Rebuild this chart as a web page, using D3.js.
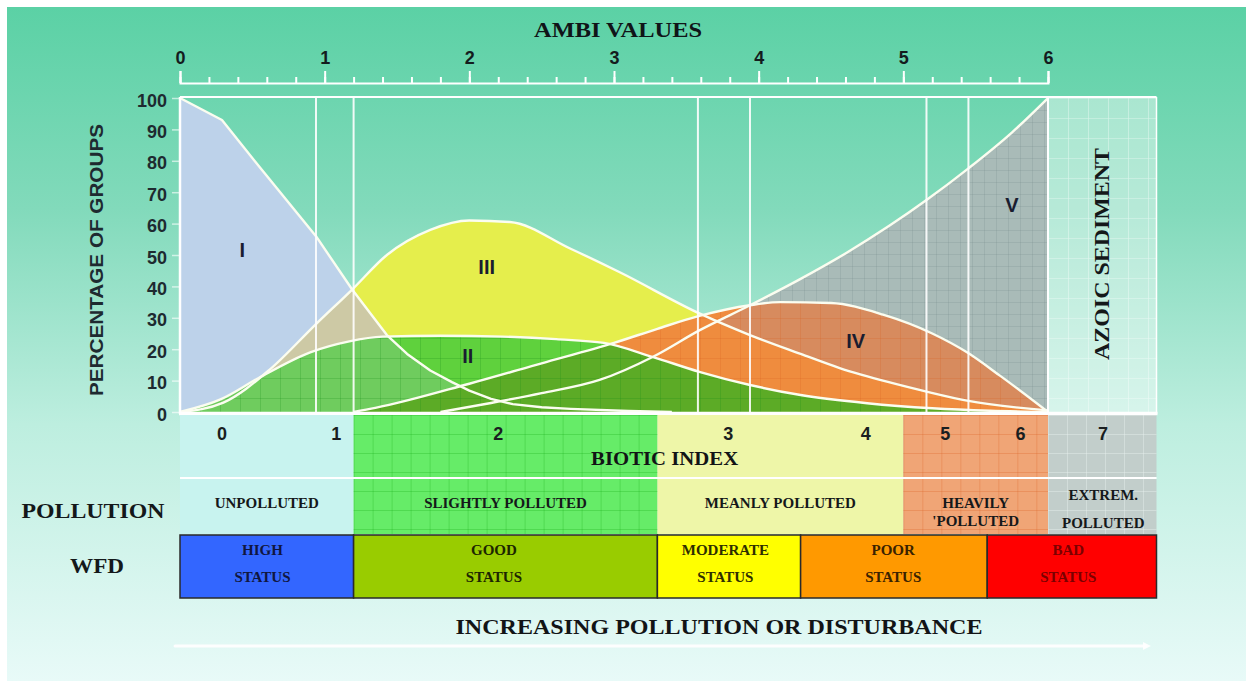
<!DOCTYPE html>
<html><head><meta charset="utf-8">
<script src="https://cdn.jsdelivr.net/npm/d3@7"></script>
<style>body{margin:0;background:#fff}svg{display:block}</style>
</head><body><svg id="c" width="1246" height="686"></svg>
<script>
// ---------- DATA ----------
const ambiTicks = [0, 1, 2, 3, 4, 5, 6];
const pctTicks = [0, 10, 20, 30, 40, 50, 60, 70, 80, 90, 100];
// ecological groups: [AMBI value, percentage]
const groupI   = [[0,100],[0.29,93],[0.55,78],[0.94,56],[1.19,39],[1.43,24.5],[1.57,18.5],[1.73,13.2],[1.88,9.5],[2.0,6.8],[2.15,4.2],[2.3,2.5],[2.5,1.5],[2.7,1],[3.1,0.3],[3.4,0]];
const groupII  = [[0,0],[0.28,4],[0.55,11],[0.9,19],[1.17,22.5],[1.4,24],[1.8,24.3],[2.23,24],[2.6,23.2],[2.93,22],[3.27,17.5],[3.59,12.8],[3.94,8.6],[4.29,5.4],[4.75,2.8],[5.2,1.2],[5.6,0.4],[6,0]];
const groupIII = [[0,0],[0.3,3],[0.62,13.5],[0.94,28],[1.19,39],[1.43,50],[1.73,58],[2.0,61],[2.28,60.5],[2.7,52],[3.04,44.5],[3.59,31.4],[3.94,24.5],[4.29,18.5],[4.56,14],[4.9,9.5],[5.16,6.5],[5.44,3.6],[6,0.5]];
const groupIV  = [[1.2,0],[1.35,1.3],[2.0,9],[2.5,15.5],[3.0,22],[3.3,26.5],[3.59,30.6],[3.94,34],[4.15,35],[4.5,34.7],[4.86,31],[5.2,25],[5.44,19],[5.67,11.5],[6,0]];
const groupV   = [[1.8,0],[2.14,2.8],[2.5,6],[2.9,10.2],[3.27,17.6],[3.59,26],[3.94,34],[4.29,42.4],[4.6,50.5],[4.9,59.2],[5.16,67.5],[5.45,77.6],[5.75,89],[6,100]];
const groupNames = ["I", "II", "III", "IV", "V"];
const dividers = [0.94, 1.2, 3.58, 3.94, 5.16, 5.45];
const azoicRange = [6, 6.75];
const indexBounds = [0, 1.2, 3.3, 5.0, 6.0, 6.75];
const indexLabels = ["0", "1", "2", "3", "4", "5", "6", "7"];
const indexLabelAt = [0.29, 1.08, 2.2, 3.79, 4.74, 5.29, 5.81, 6.38];
const pollutionLabels = [["UNPOLLUTED"], ["SLIGHTLY POLLUTED"], ["MEANLY POLLUTED"], ["HEAVILY", "'POLLUTED"], ["EXTREM.", "POLLUTED"]];
const wfdBounds = [0, 1.2, 3.3, 4.29, 5.58, 6.75];
const wfdLabels = [["HIGH", "STATUS"], ["GOOD", "STATUS"], ["MODERATE", "STATUS"], ["POOR", "STATUS"], ["BAD", "STATUS"]];
const wfdLabelAt = [0.57, 2.17, 3.77, 4.93, 6.14];

// ---------- STYLE ----------
const SERIF = '"Liberation Serif","Times New Roman",serif';
const SANS = '"Liberation Sans",Arial,sans-serif';
const indexFill = ["#c8f3ef", "#66ec68", "#eef6a8", "#f0a576", "#c2cecb"];
const indexGrid = [null, "rgba(20,170,20,0.55)", null, "rgba(220,100,40,0.6)", "rgba(235,242,240,0.8)"];
const wfdFill = ["#3366ff", "#99cc00", "#ffff00", "#ff9900", "#ff0000"];
const wfdText = ["#101640", "#1c2600", "#2e2e00", "#3a2200", "#7a0000"];

const svg = d3.select("#c");
const defs = svg.append("defs");

const x = d3.scaleLinear().domain([0, 6]).range([180, 1048]);
const y = d3.scaleLinear().domain([0, 100]).range([412, 98]);

// background gradient
const bg = defs.append("linearGradient").attr("id", "bg").attr("x1", 0).attr("y1", 0).attr("x2", 0).attr("y2", 1);
[[0, "#5bd1a5"], [0.3, "#82dabb"], [0.62, "#bdeedf"], [1, "#e8faf8"]].forEach(s =>
  bg.append("stop").attr("offset", s[0]).attr("stop-color", s[1]));
svg.append("rect").attr("x", 7).attr("y", 7).attr("width", 1239).attr("height", 674).attr("fill", "url(#bg)");

function gridPattern(id, size, color, w, ox, oy) {
  defs.append("pattern").attr("id", id).attr("patternUnits", "userSpaceOnUse")
    .attr("x", ox).attr("y", oy).attr("width", size).attr("height", size)
    .append("path").attr("d", `M${size} 0L0 0 0 ${size}`).attr("fill", "none")
    .attr("stroke", color).attr("stroke-width", w);
}
gridPattern("gII", 20, "rgba(20,140,20,0.45)", 1, 180, 98);
gridPattern("gIV", 20, "rgba(215,95,30,0.45)", 1, 180, 98);
gridPattern("gV", 12, "rgba(100,125,125,0.35)", 1, 180, 98);
gridPattern("gAz", 20, "rgba(255,255,255,0.55)", 1.2, 1048, 98);
indexGrid.forEach((c, i) => { if (c) gridPattern("gIdx" + i, 19, c, 1, x(indexBounds[i]), 415); });

const curveOf = n => n === "I" ? d3.curveLinear : d3.curveMonotoneX;
const areaOf = n => d3.area().curve(curveOf(n)).x(d => x(d[0])).y0(y(0)).y1(d => y(d[1]));
const lineOf = n => d3.line().curve(curveOf(n)).x(d => x(d[0])).y(d => y(d[1]));
const groups = { I: groupI, II: groupII, III: groupIII, IV: groupIV, V: groupV };
groupNames.forEach(n => defs.append("clipPath").attr("id", "clip" + n).append("path").attr("d", areaOf(n)(groups[n])));

const plot = svg.append("g");
function fillArea(n, color, clip, pat) {
  const d = areaOf(n)(groups[n]);
  const p = plot.append("path").attr("d", d).attr("fill", color);
  if (clip) p.attr("clip-path", `url(#clip${clip})`);
  if (pat) {
    const q = plot.append("path").attr("d", d).attr("fill", `url(#${pat})`);
    if (clip) q.attr("clip-path", `url(#clip${clip})`);
  }
}
fillArea("III", "#e5ee4c");
fillArea("I", "#bdd2ea");
fillArea("I", "#cdc9a5", "III");
fillArea("V", "#a9bbb8", null, "gV");
fillArea("IV", "#ef8c3e", null, "gIV");
fillArea("V", "#d78b5e", "IV", "gIV");
fillArea("III", "#ef8c3e", "IV", "gIV");
fillArea("II", "#5fd13d", null, "gII");
fillArea("I", "#6fcc5e", "II", "gII");
fillArea("IV", "#5cab26", "II", "gII");

// azoic column
plot.append("rect").attr("x", x(azoicRange[0])).attr("y", y(100)).attr("width", x(azoicRange[1]) - x(azoicRange[0]))
  .attr("height", y(0) - y(100)).attr("fill", "rgba(255,255,255,0.42)");
plot.append("rect").attr("x", x(azoicRange[0])).attr("y", y(100)).attr("width", x(azoicRange[1]) - x(azoicRange[0]))
  .attr("height", y(0) - y(100)).attr("fill", "url(#gAz)");

// curves
groupNames.forEach(n => plot.append("path").attr("d", lineOf(n)(groups[n])).attr("fill", "none")
  .attr("stroke", "#fbfdf0").attr("stroke-width", 2.4).attr("stroke-linejoin", "round"));

// dividers
plot.selectAll(".div").data(dividers).join("line").attr("x1", d => x(d)).attr("x2", d => x(d))
  .attr("y1", y(100)).attr("y2", y(0)).attr("stroke", "#ffffff").attr("stroke-width", 2).attr("opacity", 0.9);

// borders
const bw = "#ffffff";
plot.append("line").attr("x1", x(0)).attr("x2", x(0)).attr("y1", y(100) - 1).attr("y2", y(0) + 2).attr("stroke", bw).attr("stroke-width", 2.5);
plot.append("line").attr("x1", x(0)).attr("x2", x(azoicRange[1])).attr("y1", y(100) - 1).attr("y2", y(100) - 1).attr("stroke", bw).attr("stroke-width", 2);
plot.append("line").attr("x1", x(azoicRange[0])).attr("x2", x(azoicRange[0])).attr("y1", y(100)).attr("y2", y(0)).attr("stroke", bw).attr("stroke-width", 2);
plot.append("line").attr("x1", x(azoicRange[1])).attr("x2", x(azoicRange[1])).attr("y1", y(100) - 1).attr("y2", y(0) + 2).attr("stroke", bw).attr("stroke-width", 1.5);
plot.append("line").attr("x1", x(0) - 1).attr("x2", x(azoicRange[1]) + 1).attr("y1", y(0) + 1.5).attr("y2", y(0) + 1.5).attr("stroke", bw).attr("stroke-width", 3.5);

// roman numerals
const romanAt = { I: [0.43, 51.5], II: [1.99, 17.8], III: [2.12, 46.2], IV: [4.67, 22.6], V: [5.75, 65.9] };
groupNames.forEach(n => svg.append("text").attr("x", x(romanAt[n][0])).attr("y", y(romanAt[n][1]))
  .attr("text-anchor", "middle").attr("dominant-baseline", "central").attr("font-family", SANS)
  .attr("font-weight", "bold").attr("font-size", 20).attr("fill", "#1a1d30").text(n));

// top axis
const topAxis = svg.append("g").attr("transform", "translate(0,83)")
  .call(d3.axisTop(x).tickValues(ambiTicks).tickSize(12).tickSizeOuter(12).tickPadding(7).tickFormat(d3.format("d")));
const minor = svg.append("g").attr("transform", "translate(0,83)")
  .call(d3.axisTop(x).ticks(30).tickSize(6).tickFormat(""));
minor.select(".domain").remove();
[topAxis, minor].forEach(g => {
  g.selectAll("path,line").attr("stroke", "#ffffff").attr("stroke-width", 2);
});
topAxis.selectAll("text").attr("font-family", SANS).attr("font-weight", "bold").attr("font-size", 18).attr("fill", "#141c1e");
svg.append("text").attr("x", 618).attr("y", 37).attr("text-anchor", "middle").attr("font-family", SERIF)
  .attr("font-weight", "bold").attr("font-size", 20).attr("textLength", 168).attr("lengthAdjust", "spacingAndGlyphs")
  .attr("fill", "#101418").text("AMBI VALUES");

// left axis
const leftAxis = svg.append("g").attr("transform", "translate(180,0)")
  .call(d3.axisLeft(y).tickValues(pctTicks).tickSize(8).tickPadding(5));
leftAxis.select(".domain").remove();
leftAxis.selectAll("line").attr("stroke", "rgba(255,255,255,0.6)").attr("stroke-width", 1.5);
leftAxis.selectAll("text").attr("font-family", SANS).attr("font-weight", "bold").attr("font-size", 18)
  .attr("fill", "#1e2a30").attr("dy", "0.45em");
svg.append("text").attr("transform", "translate(103,260) rotate(-90)").attr("text-anchor", "middle")
  .attr("font-family", SANS).attr("font-weight", "bold").attr("font-size", 19).attr("textLength", 272)
  .attr("lengthAdjust", "spacingAndGlyphs").attr("fill", "#1e2a30").text("PERCENTAGE OF GROUPS");

// azoic label
svg.append("text").attr("transform", `translate(${(x(azoicRange[0]) + x(azoicRange[1])) / 2 + 7},254) rotate(-90)`)
  .attr("text-anchor", "middle").attr("font-family", SERIF).attr("font-weight", "bold").attr("font-size", 21)
  .attr("textLength", 212).attr("lengthAdjust", "spacingAndGlyphs").attr("fill", "#14181a").text("AZOIC SEDIMENT");

// ---------- TABLE ----------
const rowIdx = { y: 415, h: 62 }, rowPol = { y: 479, h: 55 }, rowWfd = { y: 535, h: 63 };
const cells = d3.range(indexBounds.length - 1);
[rowIdx, rowPol].forEach(r => {
  svg.append("g").selectAll("rect").data(cells).join("rect")
    .attr("x", i => x(indexBounds[i])).attr("width", i => x(indexBounds[i + 1]) - x(indexBounds[i]))
    .attr("y", r.y).attr("height", r.h).attr("fill", i => indexFill[i]);
  svg.append("g").selectAll("rect").data(cells.filter(i => indexGrid[i])).join("rect")
    .attr("x", i => x(indexBounds[i])).attr("width", i => x(indexBounds[i + 1]) - x(indexBounds[i]))
    .attr("y", r.y).attr("height", r.h).attr("fill", i => `url(#gIdx${i})`);
});
svg.append("line").attr("x1", x(0)).attr("x2", x(indexBounds[5])).attr("y1", 478).attr("y2", 478)
  .attr("stroke", "#ffffff").attr("stroke-width", 2);

svg.append("g").selectAll("text").data(indexLabels).join("text")
  .attr("x", (d, i) => x(indexLabelAt[i])).attr("y", 440).attr("text-anchor", "middle")
  .attr("font-family", SANS).attr("font-weight", "bold").attr("font-size", 18).attr("fill", "#1a1e20").text(d => d);
svg.append("text").attr("x", x(3.35)).attr("y", 465).attr("text-anchor", "middle").attr("font-family", SERIF)
  .attr("font-weight", "bold").attr("font-size", 19).attr("textLength", 147).attr("lengthAdjust", "spacingAndGlyphs")
  .attr("fill", "#121416").text("BIOTIC INDEX");

const polLineY = [[508], [508], [508], [508, 526], [500, 528]];
pollutionLabels.forEach((lines, i) => {
  lines.forEach((t, k) => svg.append("text").attr("x", x((indexBounds[i] + indexBounds[i + 1]) / 2) + (i === 4 ? 1 : 0))
    .attr("y", polLineY[i][k]).attr("text-anchor", "middle").attr("font-family", SERIF).attr("font-weight", "bold")
    .attr("font-size", 15).attr("fill", "#15181a").text(t));
});

svg.append("g").selectAll("rect").data(d3.range(wfdLabels.length)).join("rect")
  .attr("x", i => x(wfdBounds[i])).attr("width", i => x(wfdBounds[i + 1]) - x(wfdBounds[i]))
  .attr("y", rowWfd.y).attr("height", rowWfd.h).attr("fill", i => wfdFill[i])
  .attr("stroke", "#2a2a2a").attr("stroke-width", 1.5);
wfdLabels.forEach((lines, i) => {
  lines.forEach((t, k) => svg.append("text").attr("x", x(wfdLabelAt[i])).attr("y", k ? 582 : 555)
    .attr("text-anchor", "middle").attr("font-family", SERIF).attr("font-weight", "bold").attr("font-size", 15)
    .attr("fill", wfdText[i]).text(t));
});

svg.append("text").attr("x", 93).attr("y", 518).attr("text-anchor", "middle").attr("font-family", SERIF)
  .attr("font-weight", "bold").attr("font-size", 21).attr("textLength", 143).attr("lengthAdjust", "spacingAndGlyphs")
  .attr("fill", "#14181a").text("POLLUTION");
svg.append("text").attr("x", 97).attr("y", 573).attr("text-anchor", "middle").attr("font-family", SERIF)
  .attr("font-weight", "bold").attr("font-size", 21).attr("textLength", 54).attr("lengthAdjust", "spacingAndGlyphs")
  .attr("fill", "#14181a").text("WFD");

// bottom arrow
svg.append("text").attr("x", 719).attr("y", 634).attr("text-anchor", "middle").attr("font-family", SERIF)
  .attr("font-weight", "bold").attr("font-size", 21).attr("textLength", 527).attr("lengthAdjust", "spacingAndGlyphs")
  .attr("fill", "#121416").text("INCREASING POLLUTION OR DISTURBANCE");
svg.append("line").attr("x1", 175).attr("x2", 1146).attr("y1", 646).attr("y2", 646)
  .attr("stroke", "#ffffff").attr("stroke-width", 3).attr("stroke-linecap", "round").attr("opacity", 0.95);
svg.append("path").attr("d", "M1143,642 L1151,646 L1143,650 Z").attr("fill", "#ffffff").attr("opacity", 0.9);
</script></body></html>
